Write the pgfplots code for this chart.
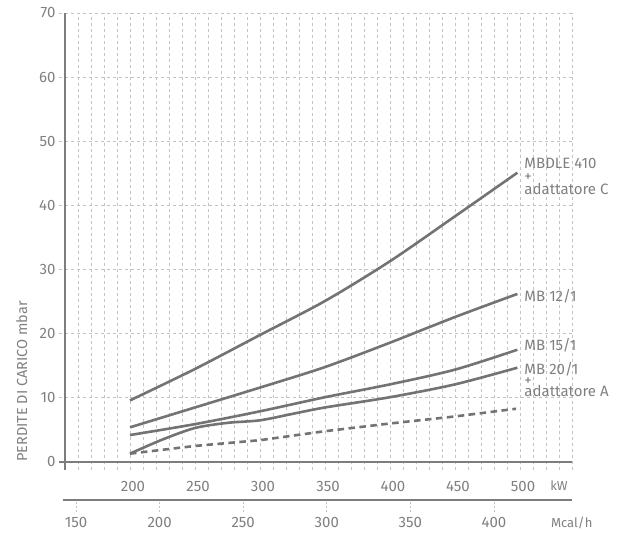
\documentclass[border=0pt]{standalone}
\usepackage{pgfplots}
\pgfplotsset{compat=1.18}
\usepackage{fontspec}
\setmainfont{Fira Sans}
\definecolor{txt}{RGB}{128,128,128}
\definecolor{crv}{RGB}{115,115,115}
\definecolor{axl}{RGB}{125,125,125}
\definecolor{grd}{RGB}{195,195,195}
\begin{document}
\lineskiplimit=-30pt
\begin{tikzpicture}[font=\fontsize{15bp}{17bp}\selectfont, text=txt]
\useasboundingbox (-59bp,-63bp) rectangle (567bp,470bp);
\begin{axis}[
  at={(0,0)}, anchor=south west,
  scale only axis, width=513bp, height=457bp,
  xmin=145.4, xmax=540, ymin=-1.25, ymax=70,
  xtick={200,250,...,500}, minor xtick={150,160,...,540},
  ytick={0,10,...,70},
  xmajorgrids, xminorgrids, ymajorgrids,
  major grid style={grd, line width=0.8bp, dash pattern=on 3bp off 3bp},
  minor grid style={grd, line width=0.8bp, dash pattern=on 3bp off 3bp},
  axis line style={draw=none},
  tick style={draw=none},
  /pgf/number format/assume math mode=true,
  ticklabel style={font=\fontsize{15bp}{17bp}\selectfont, text=txt},
  xticklabel style={yshift=-8bp, xshift=3bp},
  clip=false,
]
\draw[axl, line width=1.4bp] (axis cs:150,-1.25) -- (axis cs:150,70);
\draw[axl, line width=1.4bp] (axis cs:145.4,0) -- (axis cs:540,0);
% MBDLE 410 + adattatore C
\addplot[crv, line width=2.6bp, smooth] coordinates {
 (200,9.6) (250,14.5) (300,19.8) (350,25.1) (400,31.3) (450,38.3) (498,45.1)};
% MB 12/1
\addplot[crv, line width=2.6bp, smooth] coordinates {
 (200,5.4) (250,8.5) (300,11.6) (350,14.8) (400,18.6) (450,22.6) (498,26.2)};
% MB 15/1
\addplot[crv, line width=2.6bp, smooth] coordinates {
 (200,4.2) (250,5.9) (300,7.9) (350,10.1) (400,12.1) (450,14.4) (498,17.5)};
% MB 20/1 + adattatore A
\addplot[crv, line width=2.6bp, smooth] coordinates {
 (200,1.3) (225,3.5) (250,5.3) (275,6.1) (300,6.5) (325,7.5) (350,8.5) (400,10.1) (450,12.1) (498,14.7)};
% dashed
\addplot[crv, line width=2.6bp, dash pattern=on 6.5bp off 4.5bp] coordinates {
 (200,1.3) (250,2.5) (300,3.4) (350,4.8) (400,6.0) (450,7.1) (497,8.3)};
\node[anchor=north west, inner sep=0pt, align=left,
      font=\fontsize{15bp}{13bp}\selectfont]
  at (axis cs:503.3,47.4) {MBDLE 410\\+\\adattatore C};
\node[anchor=west, inner sep=0pt] at (axis cs:503.3,25.9) {MB 12/1};
\node[anchor=west, inner sep=0pt] at (axis cs:503.3,18.25) {MB 15/1};
\node[anchor=north west, inner sep=0pt, align=left,
      font=\fontsize{15bp}{11bp}\selectfont]
  at (axis cs:503.3,15.6) {MB 20/1\\+\\adattatore A};
\end{axis}
\begin{axis}[
  at={(4bp,-42bp)}, anchor=south west,
  scale only axis, width=509bp, height=12bp,
  xmin=142.2, xmax=446.7, ymin=-1, ymax=0,
  xtick={150,200,...,400}, ytick={0}, yticklabels={},
  xmajorgrids, ymajorgrids,
  x grid style={grd, line width=0.8bp, dash pattern=on 2bp off 2bp},
  y grid style={axl, solid, line width=1.4bp},
  axis line style={draw=none},
  tick style={draw=none},
  /pgf/number format/assume math mode=true,
  ticklabel style={font=\fontsize{15bp}{17bp}\selectfont, text=txt},
  xticklabel style={yshift=-2bp},
  clip=false,
]
\end{axis}
\node[font=\fontsize{13bp}{15bp}\selectfont] at (500bp,-16bp) {kW};
\node[font=\fontsize{13bp}{15bp}\selectfont] at (512.7bp,-53bp) {Mcal/h};
\node[rotate=90, anchor=base west, inner sep=0pt, font=\fontsize{14.5bp}{17bp}\selectfont] at (-32bp,8bp) {PERDITE DI CARICO mbar};
\end{tikzpicture}
\end{document}
